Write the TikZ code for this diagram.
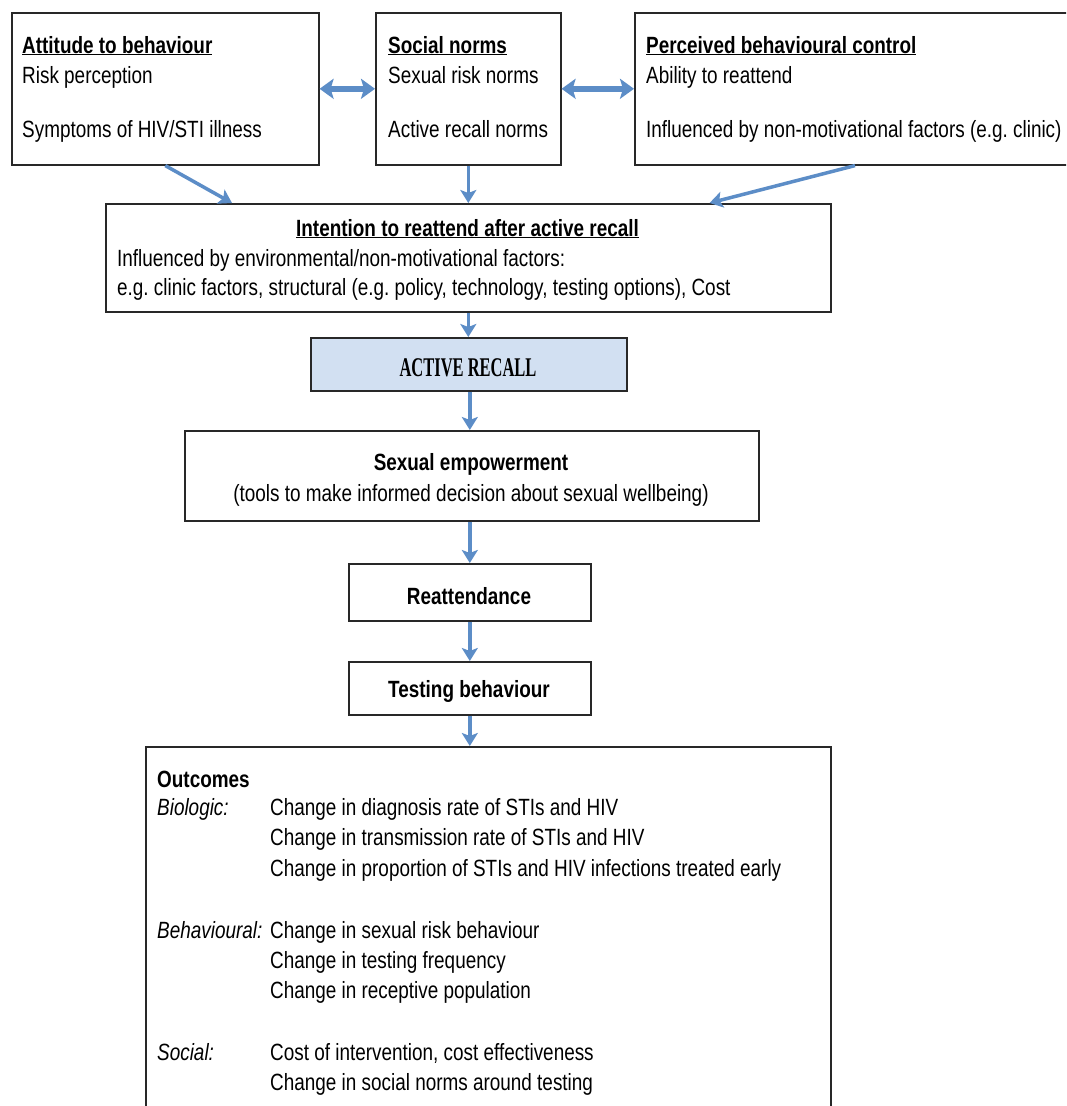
\documentclass[tikz,border=0pt]{standalone}
\usepackage{fontspec}
\setmainfont{Liberation Sans}[FakeStretch=0.805]
\newfontfamily\recallfont{Liberation Serif}[FakeStretch=0.61]
\usetikzlibrary{arrows.meta,calc}
\definecolor{arrowblue}{RGB}{92,141,199}
\definecolor{recallfill}{RGB}{210,224,242}
\definecolor{boxline}{RGB}{40,40,40}
\begin{document}
\begin{tikzpicture}[x=1pt,y=-1pt,
  every node/.style={font=\fontsize{23.5}{27}\selectfont, inner sep=0pt},
  boxstyle/.style={draw=boxline, line width=1.6pt, rectangle, anchor=north west},
  txt/.style={anchor=base west},
  ctxt/.style={anchor=base},
  flow/.style={draw=arrowblue, line width=3.5pt, -{Stealth[length=13pt,width=16pt,inset=3pt]}},
  dbl/.style={draw=arrowblue, line width=6pt, {Stealth[length=14pt,width=20pt,inset=3pt]}-{Stealth[length=14pt,width=20pt,inset=3pt]}}
]
\useasboundingbox (0,0) rectangle (1066,1106);
\fill[white] (0,0) rectangle (1066,1106);
\clip (0,0) rectangle (1066,1106);

% top boxes
\node[boxstyle, minimum width=307pt, minimum height=152pt] (A) at (11,12) {};
\node[boxstyle, minimum width=185pt, minimum height=152pt] (B) at (375,12) {};
\node[boxstyle, minimum width=500pt, minimum height=152pt] (C) at (634,12) {};

\node[txt] (A1) at (22,53) {\underline{\textbf{Attitude to behaviour}}};
\node[txt] (A2) at (22,83) {Risk perception};
\node[txt] (A3) at (22,137) {Symptoms of HIV/STI illness};

\node[txt] (B1) at (388,53) {\underline{\textbf{Social norms}}};
\node[txt] (B2) at (388,83) {Sexual risk norms};
\node[txt] (B3) at (388,137) {Active recall norms};

\node[txt] (C1) at (646,53) {\underline{\textbf{Perceived behavioural control}}};
\node[txt] (C2) at (646,83) {Ability to reattend};
\node[txt] (C3) at (646,137) {Influenced by non-motivational factors (e.g.\ clinic)};

% intention box
\node[boxstyle, minimum width=725pt, minimum height=108pt] (I) at (105,203) {};
\node[ctxt] (I1) at (467.5,236) {\underline{\textbf{Intention to reattend after active recall}}};
\node[txt] (I2) at (117,266) {Influenced by environmental/non-motivational factors:};
\node[txt] (I3) at (117,295) {e.g.\ clinic factors, structural (e.g.\ policy, technology, testing options), Cost};

% active recall
\node[boxstyle, fill=recallfill, minimum width=316pt, minimum height=53pt] (AR) at (310,337) {};
\node[ctxt] (ART) at (468,376) {\fontsize{27}{30}\selectfont\recallfont\bfseries ACTIVE RECALL};

% sexual empowerment
\node[boxstyle, minimum width=574pt, minimum height=90pt] (S) at (184,430) {};
\node[ctxt] (S1) at (471,470) {\textbf{Sexual empowerment}};
\node[ctxt] (S2) at (471,501) {(tools to make informed decision about sexual wellbeing)};

% reattendance
\node[boxstyle, minimum width=242pt, minimum height=57pt] (R) at (348,563) {};
\node[ctxt] (RT) at (469,604) {\textbf{Reattendance}};

% testing behaviour
\node[boxstyle, minimum width=242pt, minimum height=53pt] (T) at (348,661) {};
\node[ctxt] (TT) at (469,697) {\textbf{Testing behaviour}};

% outcomes
\node[boxstyle, minimum width=685pt, minimum height=420pt] (O) at (145,746) {};
\node[txt] (O0) at (157,787) {\textbf{Outcomes}};
\node[txt] (OB) at (157,815) {\itshape Biologic:};
\node[txt] (OB1) at (270,815) {Change in diagnosis rate of STIs and HIV};
\node[txt] (OB2) at (270,845) {Change in transmission rate of STIs and HIV};
\node[txt] (OB3) at (270,876) {Change in proportion of STIs and HIV infections treated early};
\node[txt] (OH) at (157,938) {\itshape Behavioural:};
\node[txt] (OH1) at (270,938) {Change in sexual risk behaviour};
\node[txt] (OH2) at (270,968) {Change in testing frequency};
\node[txt] (OH3) at (270,998) {Change in receptive population};
\node[txt] (OS) at (157,1060) {\itshape Social:};
\node[txt] (OS1) at (270,1060) {Cost of intervention, cost effectiveness};
\node[txt] (OS2) at (270,1090) {Change in social norms around testing};

% connectors
\draw[dbl] (A.east) -- (B.west);
\draw[dbl] (B.west -| B.east) -- (C.west);
\draw[flow] (A.south) -- ($(I.north west)+(127,0)$);
\draw[flow] (B.south) -- (B.south |- I.north);
\draw[flow] ($(C.south west)+(221,0)$) -- ($(I.north east)+(-122,0)$);
\draw[flow] (I.south) -- (I.south |- AR.north);
\draw[flow] (R.north |- AR.south) -- (R.north |- S.north);
\draw[flow] (R.north |- S.south) -- (R.north);
\draw[flow] (R.south) -- (T.north);
\draw[flow] (T.south) -- (T.south |- O.north);
\end{tikzpicture}
\end{document}
